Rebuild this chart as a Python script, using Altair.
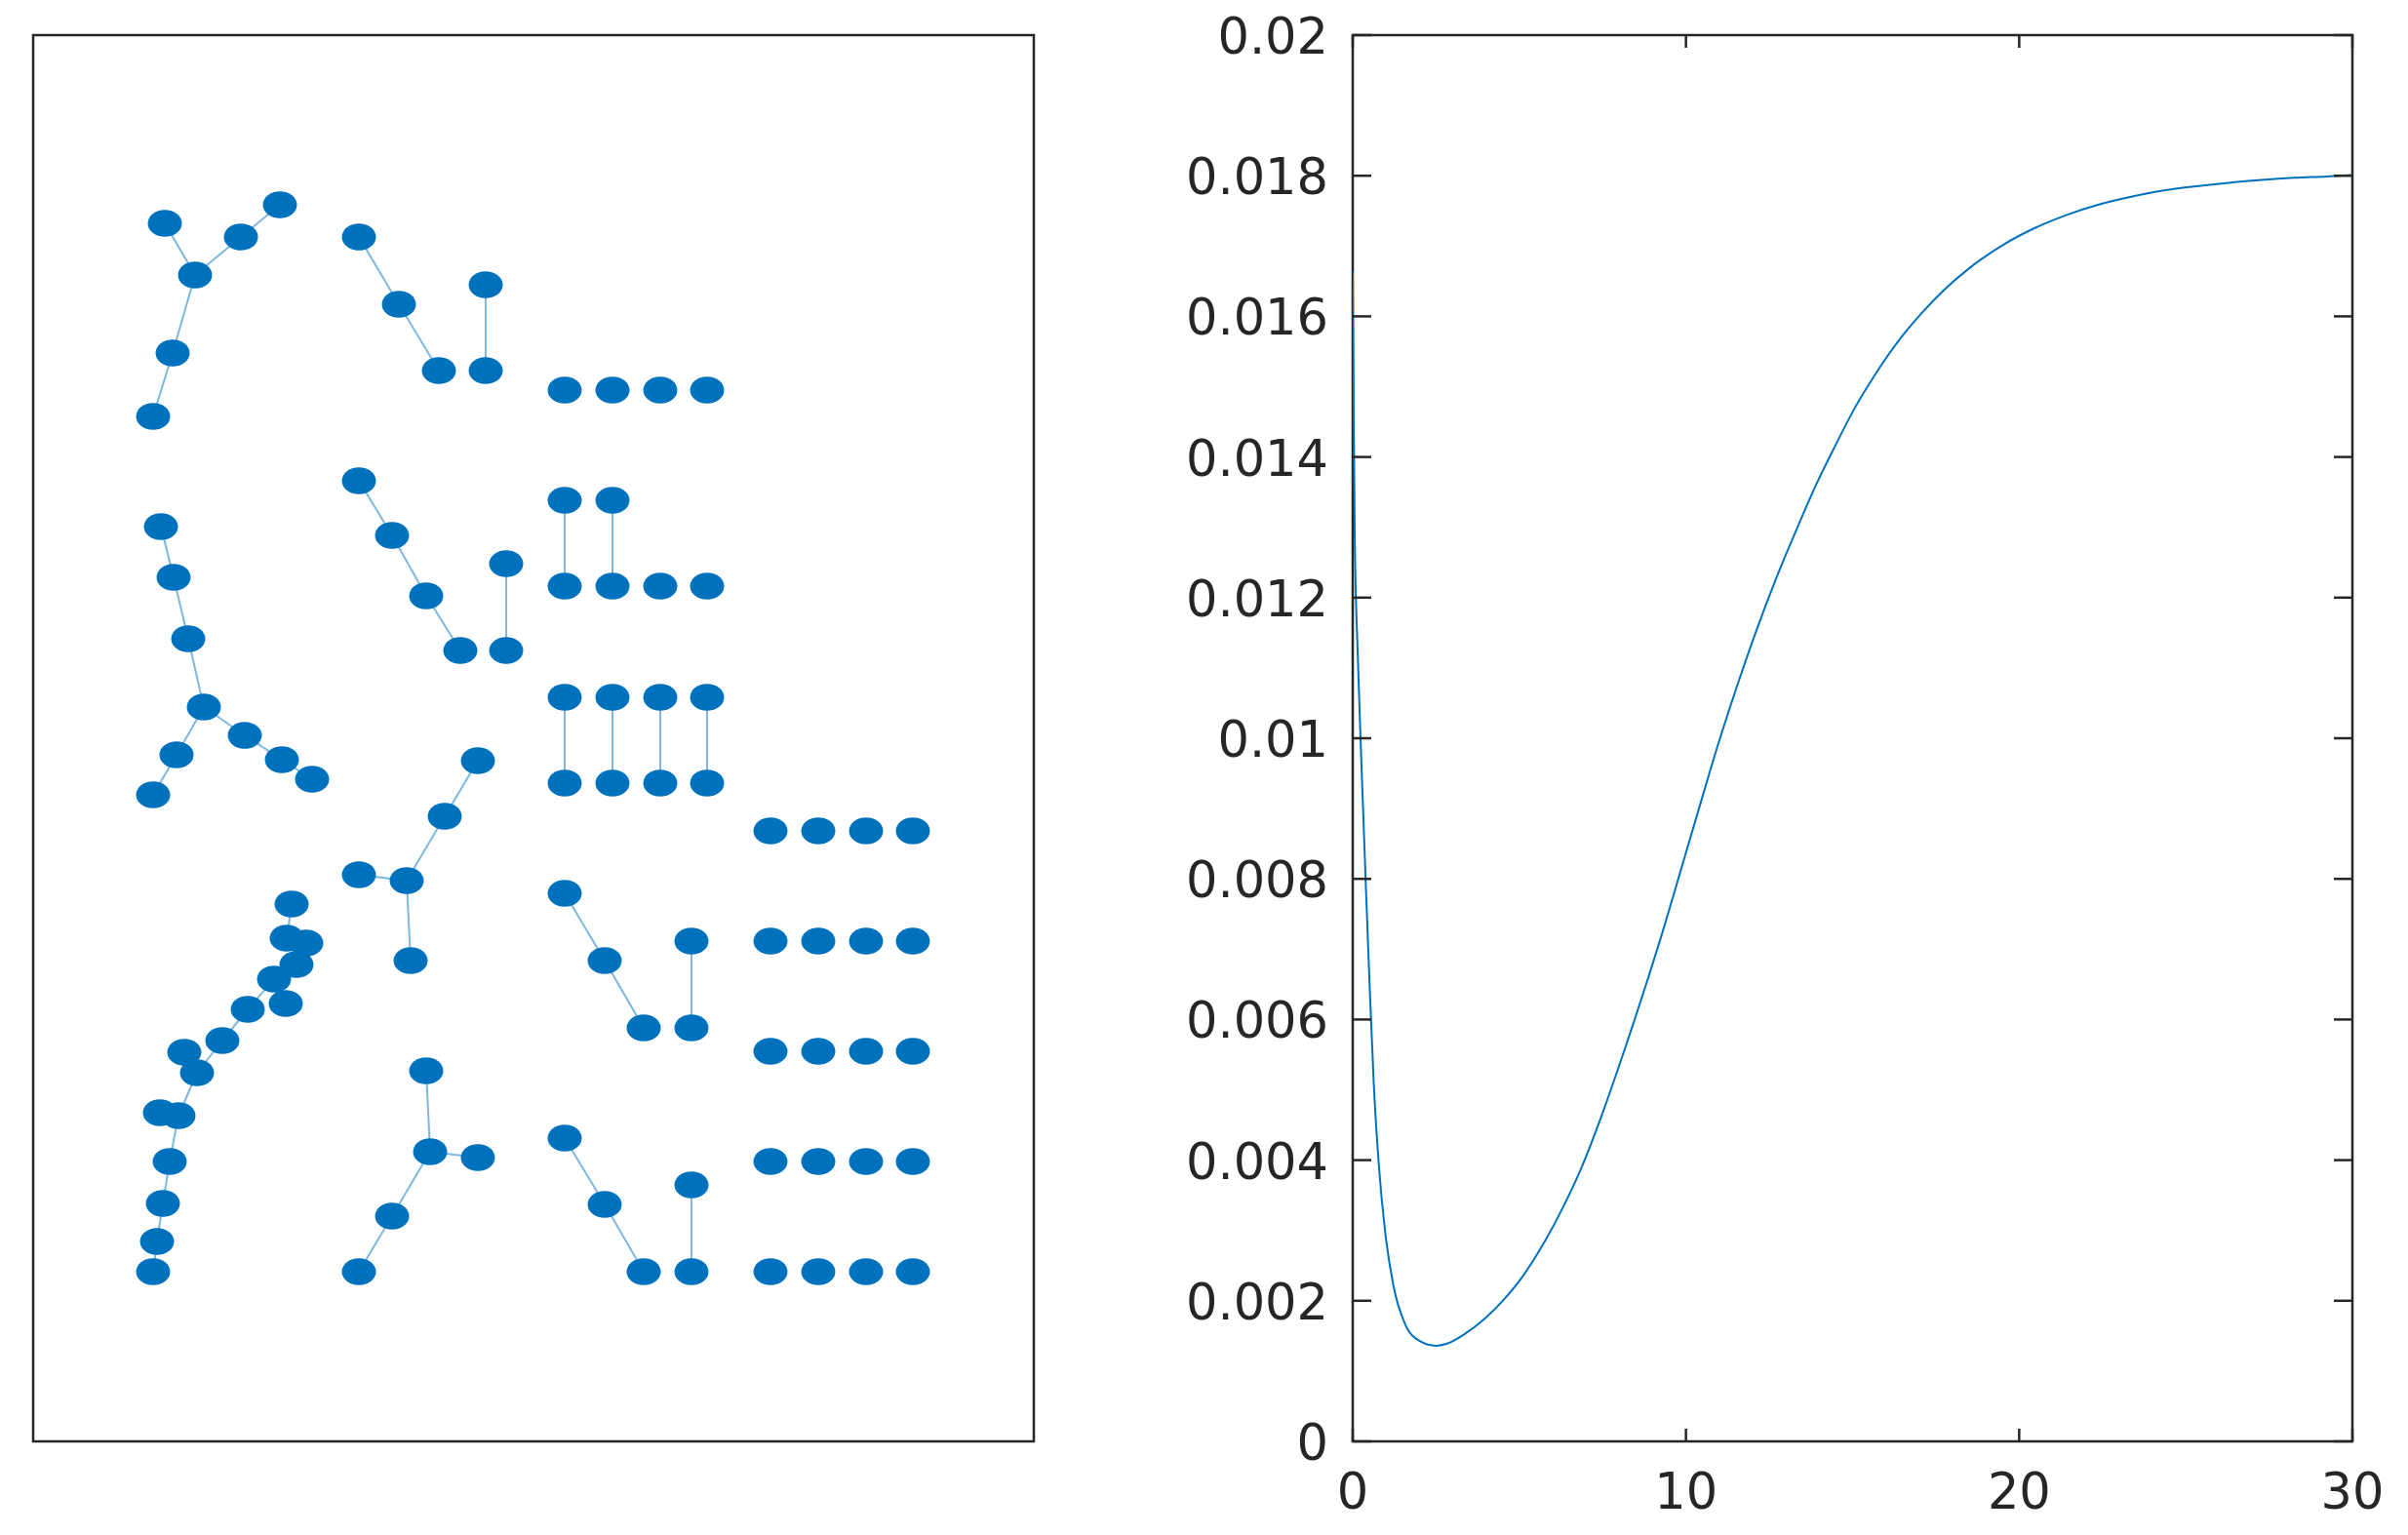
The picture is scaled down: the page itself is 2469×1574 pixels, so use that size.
import altair as alt
import pandas as pd

BLUE = "#0072BD"
DARK = "#262626"
FONT = "DejaVu Sans"
FSIZE = 51

# ---------------- left panel: graph plot (layout units, y upward) ----------------
node_ids = [
    "A1", "A2", "A3", "A4", "A5", "A6",
    "B1", "B2", "B3", "B4", "B5",
    "R1", "R2", "R3", "R4",
    "C1", "C2", "C3", "C4", "C5", "C6", "C7", "C8", "C9",
    "D1", "D2", "D3", "D4", "D5", "D6",
    "E1", "E2", "E3", "E4", "E5", "E6",
    "F1", "F2", "F3", "F4", "F5", "F6", "F7", "F8",
    "G1", "G2", "G3", "G4", "G5",
    "H1", "H2", "H3", "H4", "H5", "H6", "H7", "H8", "H9", "H10", "H11", "H12", "H13", "H14", "H15", "H16",
    "I1", "I2", "I3", "I4", "I5",
    "J1", "J2", "J3", "J4", "J5",
    "K1", "K2", "K3", "K4", "K5",
    "Q1", "Q2", "Q3", "Q4", "Q5", "Q6", "Q7", "Q8", "Q9", "Q10",
    "Q11", "Q12", "Q13", "Q14", "Q15", "Q16", "Q17", "Q18", "Q19", "Q20",
]
node_x = [
    135, 166, 213, 253, 143, 123,
    334, 375, 416, 464, 464,
    545, 594, 643, 691,
    131, 144, 159, 175, 147, 123, 217, 255, 286,
    334, 368, 403, 438, 485, 485,
    545, 594, 545, 594, 643, 691,
    545, 594, 643, 691, 545, 594, 643, 691,
    456, 422, 383, 334, 387,
    265, 260, 280, 270, 247, 259, 220, 194, 155, 168, 130, 149, 140, 133, 127, 123,
    403, 407, 456, 368, 334,
    545, 586, 626, 675, 675,
    545, 586, 626, 675, 675,
    756, 805, 854, 902, 756, 805, 854, 902, 756, 805,
    854, 902, 756, 805, 854, 902, 756, 805, 854, 902,
]
node_y = [
    1249, 1196, 1235, 1268, 1116, 1051,
    1235, 1166, 1098, 1098, 1186,
    1078, 1078, 1078, 1078,
    938, 886, 823, 753, 704, 663, 724, 699, 679,
    985, 929, 867, 811, 900, 811,
    965, 965, 877, 877, 877, 877,
    763, 763, 763, 763, 675, 675, 675, 675,
    698, 641, 575, 581, 493,
    551, 516, 511, 489, 474, 449, 443, 411, 399, 378, 337, 334, 287, 244, 205, 174,
    380, 297, 291, 231, 174,
    562, 493, 424, 424, 513,
    311, 243, 174, 174, 263,
    626, 626, 626, 626, 513, 513, 513, 513, 400, 400,
    400, 400, 287, 287, 287, 287, 174, 174, 174, 174,
]
edge_from = [
    "A1", "A2", "A3", "A2", "A5",
    "B1", "B2", "B4",
    "C1", "C2", "C3", "C4", "C5", "C4", "C7", "C8",
    "D1", "D2", "D3", "D5",
    "E1", "E2",
    "F1", "F2", "F3", "F4",
    "G1", "G2", "G3", "G3",
    "H1", "H2", "H3", "H4", "H5", "H5", "H7", "H8", "H10", "H10", "H12", "H12", "H13", "H14", "H15",
    "I1", "I2", "I2", "I4",
    "J1", "J2", "J4",
    "K1", "K2", "K4",
]
edge_to = [
    "A2", "A3", "A4", "A5", "A6",
    "B2", "B3", "B5",
    "C2", "C3", "C4", "C5", "C6", "C7", "C8", "C9",
    "D2", "D3", "D4", "D6",
    "E3", "E4",
    "F5", "F6", "F7", "F8",
    "G2", "G3", "G4", "G5",
    "H2", "H3", "H4", "H5", "H6", "H7", "H8", "H10", "H9", "H12", "H11", "H13", "H14", "H15", "H16",
    "I2", "I3", "I4", "I5",
    "J2", "J3", "J5",
    "K2", "K3", "K5",
]

# ---------------- right panel: curve ----------------
curve_x = [0, 0.03, 0.06, 0.15, 0.26, 0.39, 0.51, 0.63, 0.78, 0.98, 1.22, 1.56, 2.0, 2.5,
           2.83, 3.37, 3.95, 4.54, 5.12, 5.71, 6.29, 6.88, 7.46, 8.05, 8.44, 8.88, 9.27,
           9.8, 10.39, 10.97, 11.56, 12.15, 12.73, 13.32, 13.9, 14.49, 15.07, 15.66, 16.54,
           17.12, 17.71, 18.49, 19.46, 20.44, 21.41, 22.39, 23.36, 24.34, 25.31, 26.29,
           27.27, 28.24, 29.22, 30.0]
curve_y = [0.01664, 0.0146, 0.0129, 0.0112, 0.00965, 0.00795, 0.00645, 0.0051, 0.00395,
           0.00295, 0.00222, 0.00168, 0.00143, 0.00136, 0.00139, 0.00153, 0.00174, 0.00202,
           0.00236, 0.0028, 0.00331, 0.00391, 0.00462, 0.00542, 0.00597, 0.00661, 0.0072,
           0.00805, 0.009, 0.00992, 0.01078, 0.01158, 0.0123, 0.01297, 0.0136, 0.01417,
           0.0147, 0.01516, 0.01575, 0.01607, 0.01636, 0.01668, 0.017, 0.01725, 0.01744,
           0.01759, 0.0177, 0.01779, 0.01785, 0.0179, 0.01794, 0.01797, 0.01799, 0.01801]
x_ticks = [0, 10, 20, 30]
x_labels = ["0", "10", "20", "30"]
y_ticks = [0, 0.002, 0.004, 0.006, 0.008, 0.01, 0.012, 0.014, 0.016, 0.018, 0.02]
y_labels = ["0", "0.002", "0.004", "0.006", "0.008", "0.01", "0.012", "0.014", "0.016", "0.018", "0.02"]

# ---------------- build tables ----------------
nodes = pd.DataFrame({"id": node_ids, "x": node_x, "y": node_y})
pos = dict(zip(node_ids, zip(node_x, node_y)))
edges = pd.DataFrame({
    "x": [pos[a][0] for a in edge_from],
    "y": [pos[a][1] for a in edge_from],
    "x2": [pos[b][0] for b in edge_to],
    "y2": [pos[b][1] for b in edge_to],
})
curve = pd.DataFrame({"t": curve_x, "v": curve_y})
xt = pd.DataFrame({"t": x_ticks, "label": x_labels})
yt = pd.DataFrame({"v": y_ticks, "label": y_labels})

WL, WR, H = 1026, 1025, 1442
XTICK, YTICK = 13, 19

xs_l = alt.Scale(domain=[0, 1026], nice=False, zero=False)
ys_l = alt.Scale(domain=[0, 1442], nice=False, zero=False)

ELLIPSE = ("M-1,0C-1,-0.4363,-0.5523,-0.79,0,-0.79C0.5523,-0.79,1,-0.4363,1,0"
           "C1,0.4363,0.5523,0.79,0,0.79C-0.5523,0.79,-1,0.4363,-1,0Z")

edge_layer = alt.Chart(edges).mark_rule(color=BLUE, opacity=0.5, strokeWidth=2).encode(
    x=alt.X("x:Q", scale=xs_l, axis=None),
    y=alt.Y("y:Q", scale=ys_l, axis=None),
    x2="x2:Q",
    y2="y2:Q",
)
node_layer = alt.Chart(nodes).mark_point(
    shape=ELLIPSE, filled=True, size=1225, color=BLUE, opacity=1, strokeWidth=0
).encode(
    x=alt.X("x:Q", scale=xs_l, axis=None),
    y=alt.Y("y:Q", scale=ys_l, axis=None),
)
left = alt.layer(edge_layer, node_layer).properties(width=WL, height=H)

xs_r = alt.Scale(domain=[0, 30], nice=False, zero=False)
ys_r = alt.Scale(domain=[0, 0.02], nice=False, zero=False)

line = alt.Chart(curve).mark_line(color=BLUE, strokeWidth=2, interpolate="monotone", clip=True).encode(
    x=alt.X("t:Q", scale=xs_r, axis=None),
    y=alt.Y("v:Q", scale=ys_r, axis=None),
)
tick_style = dict(color=DARK, strokeWidth=2.5)
ytick_left = alt.Chart(yt).mark_rule(**tick_style).encode(
    y=alt.Y("v:Q", scale=ys_r, axis=None), x=alt.value(0), x2=alt.value(YTICK))
ytick_right = alt.Chart(yt).mark_rule(**tick_style).encode(
    y=alt.Y("v:Q", scale=ys_r, axis=None), x=alt.value(WR - YTICK), x2=alt.value(WR))
xtick_bottom = alt.Chart(xt).mark_rule(**tick_style).encode(
    x=alt.X("t:Q", scale=xs_r, axis=None), y=alt.value(H - XTICK), y2=alt.value(H))
xtick_top = alt.Chart(xt).mark_rule(**tick_style).encode(
    x=alt.X("t:Q", scale=xs_r, axis=None), y=alt.value(0), y2=alt.value(XTICK))

text_style = dict(font=FONT, fontSize=FSIZE, color=DARK)
ylab = alt.Chart(yt).mark_text(align="right", baseline="middle", dy=4, **text_style).encode(
    y=alt.Y("v:Q", scale=ys_r, axis=None), x=alt.value(-25), text="label:N")
xlab = alt.Chart(xt).mark_text(align="center", baseline="top", **text_style).encode(
    x=alt.X("t:Q", scale=xs_r, axis=None), y=alt.value(H + 29), text="label:N")

right = alt.layer(line, ytick_left, ytick_right, xtick_bottom, xtick_top, ylab, xlab).properties(
    width=WR, height=H)

chart = (
    alt.hconcat(left, right, spacing=152)
    .properties(padding={"left": 24, "top": 4, "right": 5, "bottom": 5}, background="white")
    .configure_view(stroke=DARK, strokeWidth=2.5)
)

chart.save("out.html", embed_options={"renderer": "svg", "actions": False})
